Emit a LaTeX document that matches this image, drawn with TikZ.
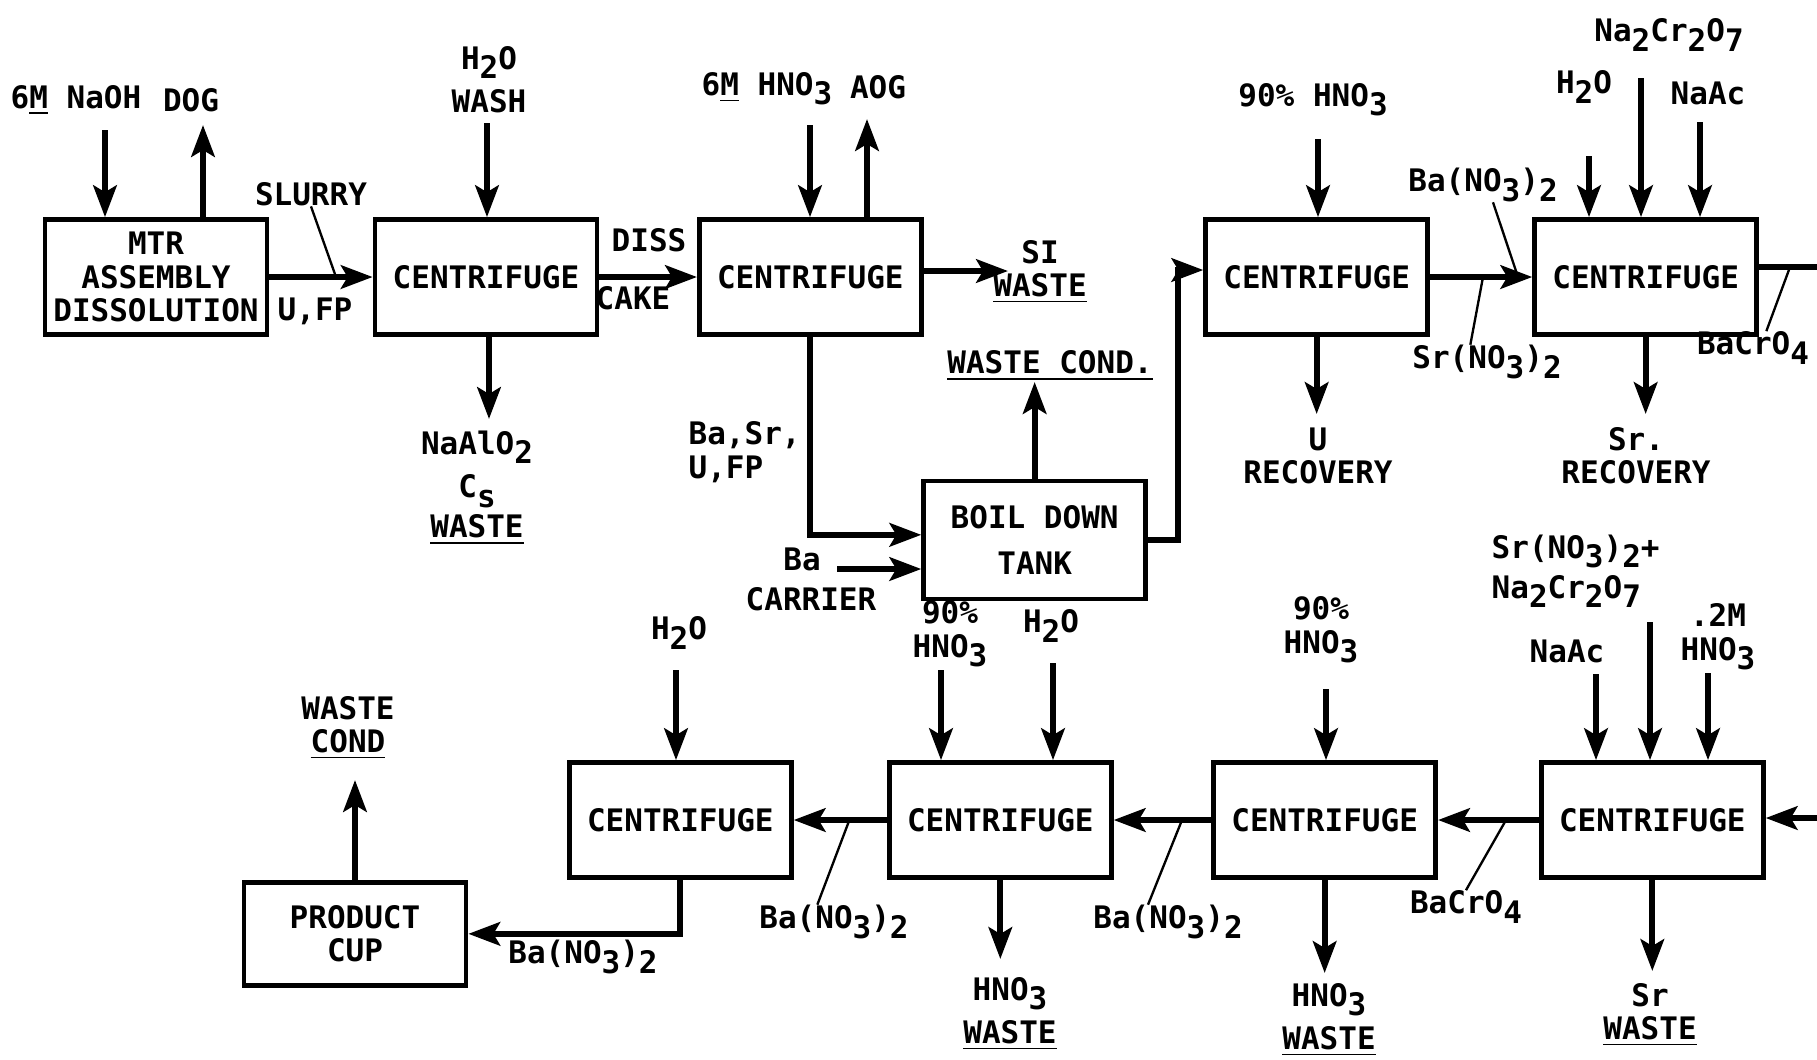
\documentclass[tikz,border=0pt]{standalone}
\usepackage{fontspec}
\setmainfont{DejaVu Sans Mono}
\usepackage{tikz}
\usetikzlibrary{positioning,arrows.meta}
\newcommand{\lowr}[1]{\raisebox{-.55ex}{#1}}

\begin{document}
\begin{tikzpicture}[
x=0.3pt, y=-0.3pt,
node distance=30pt,
font=\fontsize{9.3}{10}\selectfont\bfseries,
cbox/.style={
	rectangle,
	draw,
	line width=1.4pt,
	align=center,
	inner sep=1pt,
	minimum width=66.6pt,
	minimum height=34.5pt
},
lbl/.style={align=center, inner sep=0pt},
flow/.style={line width=1.8pt, -{Stealth[length=9.5pt,width=7pt,inset=2pt]}},
pipe/.style={line width=1.8pt},
lead/.style={line width=0.7pt}
]
\useasboundingbox (0,0) rectangle (1817,1059);

\node[cbox] (mtr) at (156,277) {MTR\\ASSEMBLY\\DISSOLUTION};
\node[cbox, right=31pt of mtr] (c1) {CENTRIFUGE};
\node[cbox, right=29.3pt of c1] (c2) {CENTRIFUGE};
\node[cbox, minimum height=35.4pt, below right=42.5pt and -0.7pt of c2] (tank) {BOIL DOWN\\[4pt]TANK};
\node[cbox, right=83.9pt of c2] (c3) {CENTRIFUGE};
\node[cbox, right=30.7pt of c3] (c4) {CENTRIFUGE};
\node[cbox, below=127pt of c4, xshift=2pt] (c5) {CENTRIFUGE};
\node[cbox, left=30.3pt of c5] (c6) {CENTRIFUGE};
\node[cbox, left=29.3pt of c6] (c7) {CENTRIFUGE};
\node[cbox, left=28pt of c7] (c8) {CENTRIFUGE};
\node[cbox, minimum height=31pt, below left=0pt and 29.6pt of c8] (cup) {PRODUCT\\CUP};

\node[lbl] (naohl) at (76,100) {6\underline{M} NaOH};
\node[lbl] (dogl) at (191,100) {DOG};
\node[lbl] (slurryl) at (311,194) {SLURRY};
\node[lbl] (ufpl) at (315,311) {U,FP};
\node[lbl] (washl) at (489,80) {H\lowr{2}O\\[3pt]WASH};
\node[lbl] (naalol) at (477,488) {NaAlO\lowr{2}\\[3pt]C\lowr{s}\\[2pt]\underline{WASTE}};
\node[lbl] (dissl) at (649,240) {DISS};
\node[lbl] (cakel) at (633,298) {CAKE};
\node[lbl] (hno3al) at (767,89) {6\underline{M} HNO\lowr{3}};
\node[lbl] (aogl) at (878,87) {AOG};
\node[lbl] (siwl) at (1040,272) {SI\\\underline{WASTE}};
\node[lbl, align=left, anchor=west] (basrl) at (688,452) {Ba,Sr,\\U,FP};
\node[lbl] (bal) at (802,559) {Ba};
\node[lbl] (carrierl) at (811,599) {CARRIER};
\node[lbl] (wcondl) at (1050,366) {\underline{WASTE COND.}};
\node[lbl] (hno3bl) at (1313,100) {90\% HNO\lowr{3}};
\node[lbl] (ureql) at (1318,456) {U\\RECOVERY};
\node[lbl] (ban1l) at (1483,185) {Ba(NO\lowr{3})\lowr{2}};
\node[lbl] (srnl) at (1487,362) {Sr(NO\lowr{3})\lowr{2}};
\node[lbl] (h2oal) at (1584,87) {H\lowr{2}O};
\node[lbl] (nacrl) at (1669,35) {Na\lowr{2}Cr\lowr{2}O\lowr{7}};
\node[lbl] (naacal) at (1708,93) {NaAc};
\node[lbl] (sreql) at (1636,456) {Sr.\\RECOVERY};
\node[lbl] (bacr1l) at (1753,348) {BaCrO\lowr{4}};
\node[lbl, align=left, anchor=west] (srnacrl) at (1491,571) {Sr(NO\lowr{3})\lowr{2}+\\[2pt]Na\lowr{2}Cr\lowr{2}O\lowr{7}};
\node[lbl] (naacbl) at (1567,651) {NaAc};
\node[lbl] (m2l) at (1718,637) {.2M\\HNO\lowr{3}};
\node[lbl] (srwl) at (1650,1015) {Sr\\\underline{WASTE}};
\node[lbl] (bacr2l) at (1466,907) {BaCrO\lowr{4}};
\node[lbl] (hno3cl) at (1321,630) {90\%\\HNO\lowr{3}};
\node[lbl] (hnowal) at (1329,1020) {HNO\lowr{3}\\[3pt]\underline{WASTE}};
\node[lbl] (ban2l) at (1168,922) {Ba(NO\lowr{3})\lowr{2}};
\node[lbl] (hno3dl) at (950,634) {90\%\\HNO\lowr{3}};
\node[lbl] (h2obl) at (1051,626) {H\lowr{2}O};
\node[lbl] (hnowbl) at (1010,1014) {HNO\lowr{3}\\[3pt]\underline{WASTE}};
\node[lbl] (ban3l) at (834,922) {Ba(NO\lowr{3})\lowr{2}};
\node[lbl] (h2ocl) at (679,633) {H\lowr{2}O};
\node[lbl] (ban4l) at (583,957) {Ba(NO\lowr{3})\lowr{2}};
\node[lbl] (wcond2l) at (348,728) {WASTE\\\underline{COND}};

\coordinate (naohin) at (105,130);
\coordinate (dogout) at (203,125);
\coordinate (washin) at (487,123);
\coordinate (wasteout) at (489,419);
\coordinate (hno3ain) at (810,125);
\coordinate (aogout) at (867,119);
\coordinate (siout) at (1008,271);
\coordinate (bain) at (837,569);
\coordinate (wcondout) at (1035,382);
\coordinate (riser) at (1178,270);
\coordinate (hno3bin) at (1318,139);
\coordinate (ureqout) at (1322,414);
\coordinate (h2oain) at (1589,156);
\coordinate (nacrin) at (1641,78);
\coordinate (naacain) at (1700,122);
\coordinate (sreqout) at (1644,414);
\coordinate (edgetop) at (1817,267);
\coordinate (edgebot) at (1817,818);
\coordinate (naacbin) at (1596,674);
\coordinate (srnacrin) at (1650,622);
\coordinate (m2in) at (1708,673);
\coordinate (srwout) at (1650,971);
\coordinate (hno3cin) at (1326,689);
\coordinate (hnowaout) at (1326,973);
\coordinate (hno3din) at (941,670);
\coordinate (h2obin) at (1053,663);
\coordinate (hnowbout) at (1002,959);
\coordinate (h2ocin) at (676,670);
\coordinate (wcond2out) at (355,780);

\draw[flow] (naohin) -- (naohin |- mtr.north);
\draw[flow] (dogout |- mtr.north) -- (dogout);
\draw[flow] (mtr) -- (c1);
\draw[flow] (washin) -- (washin |- c1.north);
\draw[flow] (wasteout |- c1.south) -- (wasteout);
\draw[flow] (c1) -- (c2);
\draw[flow] (hno3ain) -- (hno3ain |- c2.north);
\draw[flow] (aogout |- c2.north) -- (aogout);
\draw[flow] (c2.east |- siout) -- (siout);
\draw[flow] (c2.south) |- ([yshift=1.5pt]tank.west);
\draw[flow] (bain) -- (bain -| tank.west);
\draw[flow] (tank) -- (tank |- wcondout);
\draw[flow] (tank.east) -| (riser) -- (riser -| c3.west);
\draw[flow] (hno3bin) -- (hno3bin |- c3.north);
\draw[flow] (c3) -- (c3 |- ureqout);
\draw[flow] (c3) -- (c4);
\draw[flow] (h2oain) -- (h2oain |- c4.north);
\draw[flow] (nacrin) -- (nacrin |- c4.north);
\draw[flow] (naacain) -- (naacain |- c4.north);
\draw[flow] (c4) -- (c4 |- sreqout);
\draw[pipe] (edgetop -| c4.east) -- (edgetop);

\draw[flow] (edgebot) -- (edgebot -| c5.east);
\draw[flow] (naacbin) -- (naacbin |- c5.north);
\draw[flow] (srnacrin) -- (srnacrin |- c5.north);
\draw[flow] (m2in) -- (m2in |- c5.north);
\draw[flow] (c5) -- (c5 |- srwout);
\draw[flow] (c5) -- (c6);
\draw[flow] (hno3cin) -- (hno3cin |- c6.north);
\draw[flow] (c6) -- (c6 |- hnowaout);
\draw[flow] (c6) -- (c7);
\draw[flow] (hno3din) -- (hno3din |- c7.north);
\draw[flow] (h2obin) -- (h2obin |- c7.north);
\draw[flow] (c7) -- (c7 |- hnowbout);
\draw[flow] (c7) -- (c8);
\draw[flow] (h2ocin) -- (h2ocin |- c8.north);
\draw[flow] (c8.south) |- (cup.east);
\draw[flow] (cup) -- (cup |- wcond2out);

\coordinate (slurrypt) at (336,277);
\coordinate (ban1pt) at (1518,277);
\coordinate (srnpt) at (1483,277);
\coordinate (bacr1pt) at (1790,267);
\coordinate (bacr2pt) at (1506,820);
\coordinate (ban2pt) at (1182,820);
\coordinate (ban3pt) at (849,821);
\draw[lead] (slurryl.south) -- (slurrypt);
\draw[lead] ([xshift=3pt]ban1l.south) -- (ban1pt);
\draw[lead] ([xshift=-5pt]srnl.north) -- (srnpt);
\draw[lead] ([xshift=4pt]bacr1l.north) -- (bacr1pt);
\draw[lead] (bacr2l.north) -- (bacr2pt);
\draw[lead] ([xshift=-6pt]ban2l.north) -- (ban2pt);
\draw[lead] ([xshift=-5pt]ban3l.north) -- (ban3pt);

\end{tikzpicture}
\end{document}
